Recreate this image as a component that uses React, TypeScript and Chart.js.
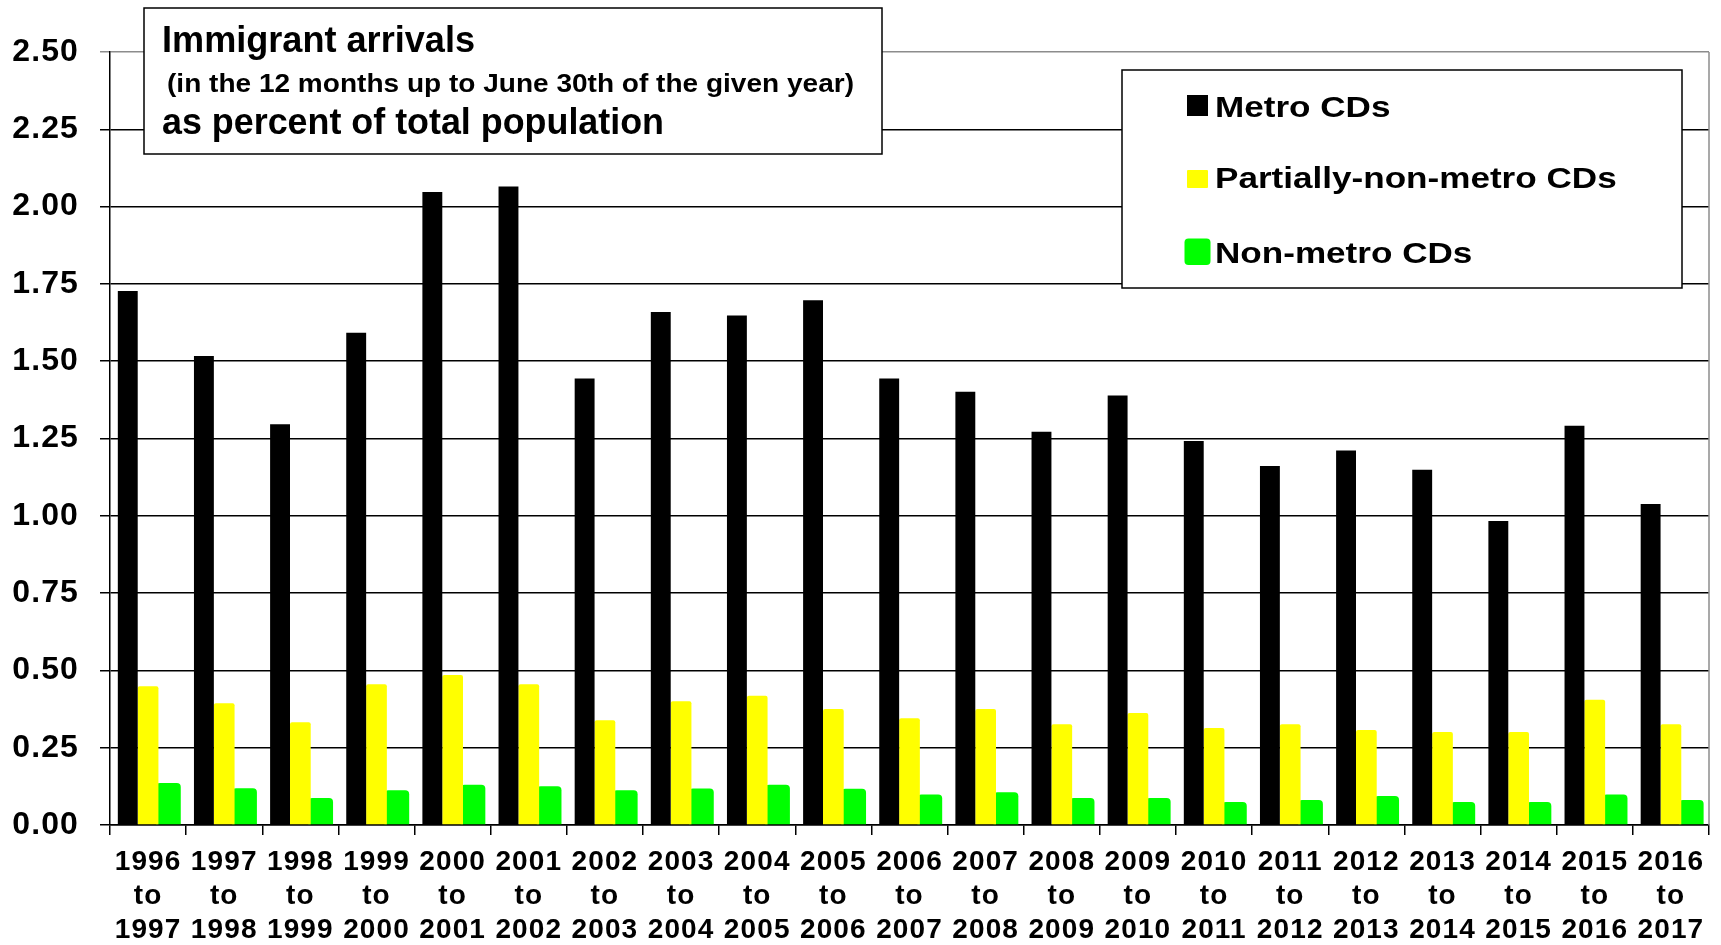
import React, { useEffect, useRef } from 'react';
import { Chart, registerables } from 'chart.js';

Chart.register(...registerables);

// ---------- data ----------
const startYears = ['1996', '1997', '1998', '1999', '2000', '2001', '2002', '2003', '2004', '2005', '2006',
  '2007', '2008', '2009', '2010', '2011', '2012', '2013', '2014', '2015', '2016'];
const endYears = ['1997', '1998', '1999', '2000', '2001', '2002', '2003', '2004', '2005', '2006', '2007',
  '2008', '2009', '2010', '2011', '2012', '2013', '2014', '2015', '2016', '2017'];

const metroCDs = [1.727, 1.517, 1.296, 1.592, 2.047, 2.065, 1.444, 1.659, 1.648, 1.697, 1.444,
  1.401, 1.272, 1.389, 1.242, 1.161, 1.211, 1.149, 0.983, 1.291, 1.038];
const partiallyNonMetroCDs = [0.449, 0.394, 0.332, 0.455, 0.485, 0.455, 0.339, 0.400, 0.418, 0.375, 0.345,
  0.375, 0.326, 0.362, 0.314, 0.326, 0.307, 0.301, 0.301, 0.405, 0.326];
const nonMetroCDs = [0.136, 0.119, 0.087, 0.112, 0.130, 0.125, 0.112, 0.118, 0.130, 0.117, 0.099,
  0.106, 0.087, 0.087, 0.074, 0.081, 0.094, 0.074, 0.074, 0.099, 0.081];

const seriesNames = ['Metro CDs', 'Partially-non-metro CDs', 'Non-metro CDs'];
const seriesColors = ['#000000', '#FFFF00', '#00FF00'];

const titleLines = [
  'Immigrant arrivals',
  '(in the 12 months up to June 30th of the given year)',
  'as percent of total population',
];

const yMin = 0;
const yMax = 2.5;
const yStep = 0.25;

// ---------- styling ----------
const FF = '"Liberation Sans", Arial, Helvetica, sans-serif';
const GRAY = '#8c8c8c';

function drawFitted(ctx: CanvasRenderingContext2D, text: string, x: number, y: number, font: string, width: number) {
  ctx.save();
  (ctx as any).letterSpacing = '0px';
  ctx.font = font;
  const w = ctx.measureText(text).width;
  ctx.translate(x, y);
  ctx.scale(width / w, 1);
  ctx.textAlign = 'left';
  ctx.textBaseline = 'alphabetic';
  ctx.fillText(text, 0, 0);
  ctx.restore();
}

function roundRect(ctx: CanvasRenderingContext2D, x: number, y: number, w: number, h: number, r: number) {
  ctx.beginPath();
  ctx.moveTo(x + r, y);
  ctx.lineTo(x + w - r, y);
  ctx.quadraticCurveTo(x + w, y, x + w, y + r);
  ctx.lineTo(x + w, y + h - r);
  ctx.quadraticCurveTo(x + w, y + h, x + w - r, y + h);
  ctx.lineTo(x + r, y + h);
  ctx.quadraticCurveTo(x, y + h, x, y + h - r);
  ctx.lineTo(x, y + r);
  ctx.quadraticCurveTo(x, y, x + r, y);
  ctx.closePath();
}

const decorPlugin = {
  id: 'decor',
  beforeDraw(chart: any) {
    const ctx = chart.ctx as CanvasRenderingContext2D;
    ctx.save();
    ctx.fillStyle = '#ffffff';
    ctx.fillRect(0, 0, chart.width, chart.height);
    ctx.restore();
    (ctx as any).letterSpacing = '1.1px';
  },
  afterDraw(chart: any) {
    const ctx = chart.ctx as CanvasRenderingContext2D;
    const a = chart.chartArea;
    ctx.save();
    (ctx as any).letterSpacing = '0px';

    // gray right frame line
    ctx.strokeStyle = GRAY;
    ctx.lineWidth = 1.5;
    ctx.beginPath();
    ctx.moveTo(a.right, a.top);
    ctx.lineTo(a.right, a.bottom);
    ctx.stroke();

    // title box
    ctx.fillStyle = '#ffffff';
    ctx.fillRect(144, 8, 738, 146);
    ctx.strokeStyle = '#000000';
    ctx.lineWidth = 1.5;
    ctx.strokeRect(144, 8, 738, 146);
    ctx.fillStyle = '#000000';
    drawFitted(ctx, titleLines[0], 162, 52, `bold 36px ${FF}`, 313);
    drawFitted(ctx, titleLines[1], 167, 92, `bold 25px ${FF}`, 687);
    drawFitted(ctx, titleLines[2], 162, 133.5, `bold 36px ${FF}`, 502);

    // legend box
    ctx.fillStyle = '#ffffff';
    ctx.fillRect(1122, 70, 560, 218);
    ctx.strokeStyle = '#000000';
    ctx.lineWidth = 1.5;
    ctx.strokeRect(1122, 70, 560, 218);

    const markers = [
      { x: 1187, y: 95, w: 21, h: 21, r: 0 },
      { x: 1187, y: 170, w: 21, h: 18, r: 1 },
      { x: 1184.5, y: 238.5, w: 26, h: 26.5, r: 4 },
    ];
    const baselines = [116.7, 188.3, 263.3];
    chart.data.datasets.forEach((ds: any, i: number) => {
      const m = markers[i];
      ctx.fillStyle = ds.backgroundColor;
      roundRect(ctx, m.x, m.y, m.w, m.h, m.r);
      ctx.fill();
      ctx.fillStyle = '#000000';
      ctx.font = `bold 29px ${FF}`;
      const w = ctx.measureText(ds.label).width;
      drawFitted(ctx, ds.label, 1215, baselines[i], `bold 29px ${FF}`, w * 1.21);
    });

    ctx.restore();
  },
};

export default function App() {
  const canvasRef = useRef<HTMLCanvasElement | null>(null);

  useEffect(() => {
    document.body.style.margin = '0';
    const canvas = canvasRef.current;
    if (!canvas) return;

    const labels = startYears.map((s, i) => [s, 'to', endYears[i]]);

    const chart = new Chart(canvas, {
      type: 'bar',
      data: {
        labels,
        datasets: [
          {
            label: seriesNames[0],
            data: metroCDs,
            backgroundColor: seriesColors[0],
            barPercentage: 0.98,
            categoryPercentage: 0.8,
          },
          {
            label: seriesNames[1],
            data: partiallyNonMetroCDs,
            backgroundColor: seriesColors[1],
            barPercentage: 1.02,
            categoryPercentage: 0.8,
            borderRadius: 2,
          },
          {
            label: seriesNames[2],
            data: nonMetroCDs,
            backgroundColor: seriesColors[2],
            barPercentage: 1.22,
            categoryPercentage: 0.8,
            borderRadius: 4,
          },
        ],
      },
      options: {
        responsive: false,
        animation: false,
        devicePixelRatio: 1,
        layout: { padding: { left: 0, right: 12, top: 52, bottom: 0 } },
        plugins: {
          legend: { display: false },
          title: { display: false },
          tooltip: { enabled: false },
        },
        scales: {
          x: {
            type: 'category',
            grid: {
              offset: true,
              drawOnChartArea: false,
              drawTicks: true,
              tickLength: 10,
              color: '#000000',
              lineWidth: 1.5,
            },
            border: { display: true, color: '#000000', width: 1.5 },
            ticks: {
              color: '#000000',
              font: { family: FF, size: 28, weight: 'bold', lineHeight: 1.218 },
              padding: 10,
              autoSkip: false,
              maxRotation: 0,
              minRotation: 0,
            },
            afterFit: (s: any) => {
              s.height = 120;
            },
          },
          y: {
            min: yMin,
            max: yMax,
            ticks: {
              stepSize: yStep,
              callback: (v: any) => Number(v).toFixed(2),
              color: '#000000',
              font: { family: FF, size: 32, weight: 'bold' },
              padding: 21,
            },
            grid: {
              color: (c: any) => (c.tick && c.tick.value === yMax ? GRAY : '#000000'),
              lineWidth: 1.5,
              drawTicks: true,
              tickLength: 10,
            },
            border: { display: true, color: '#000000', width: 1.5 },
            afterFit: (s: any) => {
              s.width = 110;
            },
          },
        },
      } as any,
      plugins: [decorPlugin as any],
    });

    return () => {
      chart.destroy();
    };
  }, []);

  return (
    <div style={{ position: 'absolute', left: 0, top: 0, width: 1721, height: 945, background: '#ffffff' }}>
      <canvas ref={canvasRef} width={1721} height={945} style={{ display: 'block', width: 1721, height: 945 }} />
    </div>
  );
}
